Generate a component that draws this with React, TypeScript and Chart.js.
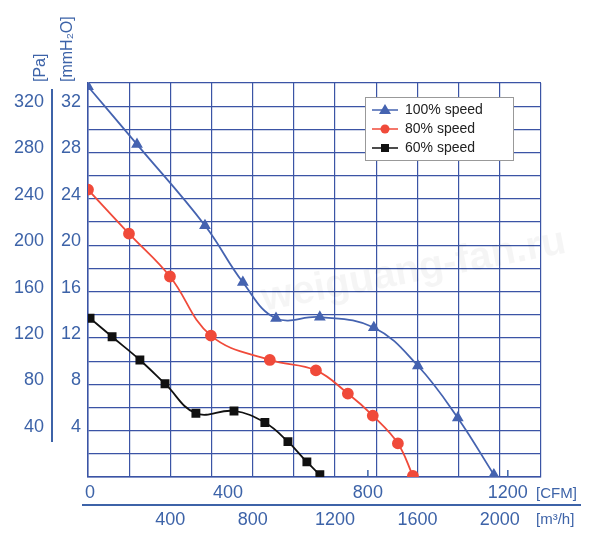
import React, { useEffect, useRef } from "react";
import Chart from "chart.js/auto";

// flow in m3/h, pressure in mmH2O
const flow100 = [0, 238, 568, 752, 913, 1126, 1388, 1602, 1796, 1971];
const press100 = [33.7, 28.7, 21.7, 16.8, 13.7, 13.8, 12.9, 9.6, 5.1, 0.2];
const flow80 = [0, 199, 398, 597, 883, 1107, 1262, 1383, 1505, 1578];
const press80 = [24.8, 21.0, 17.3, 12.2, 10.1, 9.2, 7.2, 5.3, 2.9, 0.1];
const flow60 = [10, 117, 252, 374, 524, 709, 859, 971, 1063, 1126];
const press60 = [13.7, 12.1, 10.1, 8.05, 5.5, 5.7, 4.7, 3.05, 1.3, 0.2];

const mmTicks = [4, 8, 12, 16, 20, 24, 28, 32];
const paTicks = [40, 80, 120, 160, 200, 240, 280, 320];
const cfmTicks = [0, 400, 800, 1200];
const m3hTicks = [400, 800, 1200, 1600, 2000];

const BLUE = "#3b54a5";
const AX = "#3d63a8";
const FONT = "Liberation Sans, Arial, sans-serif";

const pts = (xs: number[], ys: number[]) => xs.map((x, i) => ({ x, y: ys[i] }));

const series = [
  { label: "100% speed", color: "#4563b0", style: "triangle", radius: 5, xs: flow100, ys: press100 },
  { label: "80% speed", color: "#f04a3a", style: "circle", radius: 5, xs: flow80, ys: press80 },
  { label: "60% speed", color: "#111111", style: "rect", radius: 5, xs: flow60, ys: press60 },
];

const labelsPlugin = {
  id: "labels",
  afterDraw(chart: any) {
    const ctx = chart.ctx;
    const x = chart.scales.x;
    const y = chart.scales.y;
    ctx.save();
    ctx.fillStyle = AX;
    ctx.strokeStyle = AX;
    ctx.font = `18px ${FONT}`;
    ctx.textBaseline = "middle";
    ctx.textAlign = "right";
    mmTicks.forEach((v) => ctx.fillText(String(v), 81, y.getPixelForValue(v) - 4));
    paTicks.forEach((v) => ctx.fillText(String(v), 44, y.getPixelForValue(v / 10) - 4));
    ctx.lineWidth = 2;
    ctx.beginPath();
    ctx.moveTo(52, 89);
    ctx.lineTo(52, 442);
    ctx.stroke();
    // rotated titles
    ctx.font = `16px ${FONT}`;
    ctx.textAlign = "left";
    ctx.save();
    ctx.translate(41, 82);
    ctx.rotate(-Math.PI / 2);
    ctx.fillText("[Pa]", 0, 0);
    ctx.restore();
    ctx.save();
    ctx.translate(68, 82);
    ctx.rotate(-Math.PI / 2);
    ctx.fillText("[mmH₂O]", 0, 0);
    ctx.restore();
    // bottom axes
    ctx.font = `18px ${FONT}`;
    ctx.textAlign = "center";
    cfmTicks.forEach((v) => {
      const px = x.getPixelForValue(v * 1.699);
      ctx.fillText(String(v), v === 0 ? 90 : px, 493);
      if (v >= 800) {
        ctx.lineWidth = 1.5;
        ctx.beginPath();
        ctx.moveTo(px, 477);
        ctx.lineTo(px, 470);
        ctx.stroke();
      }
    });
    m3hTicks.forEach((v) => ctx.fillText(String(v), x.getPixelForValue(v), 520));
    ctx.font = `15px ${FONT}`;
    ctx.textAlign = "left";
    ctx.fillText("[CFM]", 536, 494);
    ctx.fillText("[m³/h]", 536, 520);
    ctx.lineWidth = 2;
    ctx.beginPath();
    ctx.moveTo(82, 505);
    ctx.lineTo(581, 505);
    ctx.stroke();
    // watermark
    ctx.save();
    ctx.translate(262, 300);
    ctx.rotate(-0.19);
    ctx.font = `bold 40px ${FONT}`;
    ctx.fillStyle = "rgba(0,0,0,0.04)";
    ctx.textAlign = "left";
    ctx.fillText("weiguang-fan.ru", 0, 0);
    ctx.restore();
    // legend
    ctx.fillStyle = "#ffffff";
    ctx.fillRect(365, 97, 148, 63);
    ctx.strokeStyle = "#999";
    ctx.lineWidth = 1;
    ctx.strokeRect(365.5, 97.5, 148, 63);
    series.forEach((s, i) => {
      const ly = 110 + i * 19;
      ctx.strokeStyle = s.color;
      ctx.fillStyle = s.color;
      ctx.lineWidth = 1.5;
      ctx.beginPath();
      ctx.moveTo(372, ly);
      ctx.lineTo(398, ly);
      ctx.stroke();
      ctx.beginPath();
      if (s.style === "triangle") {
        ctx.moveTo(385, ly - 6);
        ctx.lineTo(391, ly + 4);
        ctx.lineTo(379, ly + 4);
        ctx.closePath();
      } else if (s.style === "circle") {
        ctx.arc(385, ly, 4.5, 0, Math.PI * 2);
      } else {
        ctx.rect(381, ly - 4, 8, 8);
      }
      ctx.fill();
      ctx.fillStyle = "#222";
      ctx.font = `14px ${FONT}`;
      ctx.fillText(s.label, 405, ly);
    });
    ctx.restore();
  },
};

export default function App() {
  const canvasRef = useRef<HTMLCanvasElement>(null);

  useEffect(() => {
    if (!canvasRef.current) return;
    const chart = new Chart(canvasRef.current, {
      type: "scatter",
      data: {
        datasets: series.map((s) => ({
          label: s.label,
          data: pts(s.xs, s.ys),
          showLine: true,
          borderColor: s.color,
          backgroundColor: s.color,
          borderWidth: 1.8,
          pointStyle: s.style as any,
          pointRadius: s.radius,
          tension: 0.4,
        })),
      },
      options: {
        animation: false,
        responsive: true,
        maintainAspectRatio: false,
        layout: { padding: { left: 88, top: 83, right: 59, bottom: 60 } },
        plugins: { legend: { display: false }, tooltip: { enabled: false } },
        scales: {
          x: {
            type: "linear",
            min: 0,
            max: 2200,
            ticks: { display: false, stepSize: 200 },
            grid: { color: BLUE, lineWidth: 1.2, drawTicks: false },
            border: { color: BLUE, width: 1.5 },
          },
          y: {
            min: 0,
            max: 34,
            ticks: { display: false, stepSize: 2 },
            grid: { color: BLUE, lineWidth: 1.2, drawTicks: false },
            border: { color: BLUE, width: 1.5 },
          },
        },
      },
      plugins: [labelsPlugin],
    });
    return () => chart.destroy();
  }, []);

  return (
    <div style={{ position: "fixed", left: 0, top: 0, width: 600, height: 537, background: "#fff" }}>
      <canvas ref={canvasRef} />
    </div>
  );
}
